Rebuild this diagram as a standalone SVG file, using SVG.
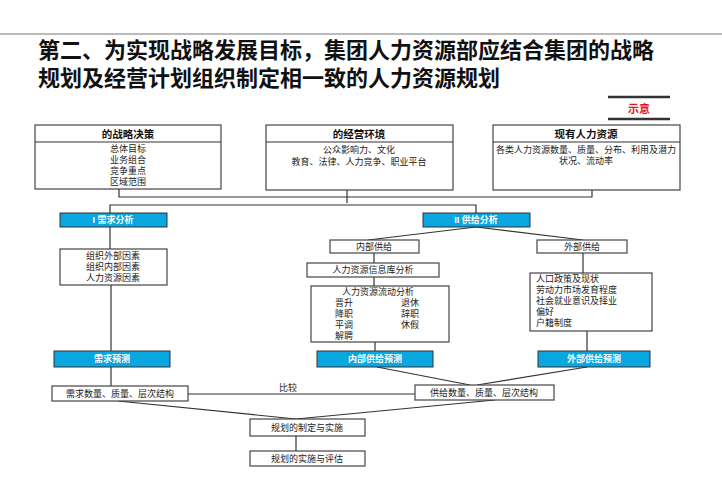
<svg xmlns="http://www.w3.org/2000/svg" width="722" height="500" viewBox="0 0 722 500">
<style>
text{font-family:"Liberation Sans","Noto Sans CJK SC",sans-serif;font-size:9px;fill:#222}
.t{font-size:22px;font-weight:bold;fill:#111}
.h{font-size:10.5px;font-weight:bold;text-anchor:middle;fill:#111}
.c{text-anchor:middle}
.w{fill:#fff;font-weight:bold;text-anchor:middle}
.b{fill:#fff;stroke:#444;stroke-width:1.2}
.bl{fill:#0AA6E0;stroke:#333;stroke-width:1}
.ln{stroke:#333;stroke-width:1.2;fill:none}
</style>
<rect width="722" height="500" fill="#fff"/>
<line x1="0" y1="34" x2="722" y2="34" stroke="#777" stroke-width="1"/>
<text class="t" x="38" y="58">第二、为实现战略发展目标，集团人力资源部应结合集团的战略</text>
<text class="t" x="38" y="86">规划及经营计划组织制定相一致的人力资源规划</text>
<g id="legend">
<line x1="608" y1="97" x2="670" y2="97" stroke="#333" stroke-width="2.5"/>
<line x1="608" y1="119" x2="670" y2="119" stroke="#333" stroke-width="2.5"/>
<text x="639" y="113" style="fill:#e8141e;font-weight:bold;font-size:11px;text-anchor:middle">示意</text>
</g>
<g id="connectors">
<polyline class="ln" points="119,189 119,197 592,197 592,190"/>
<line class="ln" x1="347" y1="190" x2="347" y2="203"/>
<polyline class="ln" points="110,213 110,205 476,205 476,213"/>
<line class="ln" x1="476" y1="227" x2="368" y2="240"/>
<line class="ln" x1="476" y1="227" x2="583" y2="240"/>
<line class="ln" x1="110" y1="227" x2="110" y2="249"/>
<line class="ln" x1="111" y1="285" x2="111" y2="351"/>
<line class="ln" x1="111" y1="367" x2="111" y2="386"/>
<line class="ln" x1="374" y1="253" x2="374" y2="263"/>
<line class="ln" x1="374" y1="277" x2="374" y2="286"/>
<line class="ln" x1="375" y1="342" x2="375" y2="351"/>
<line class="ln" x1="583" y1="253" x2="583" y2="273"/>
<line class="ln" x1="587" y1="331" x2="587" y2="351"/>
<line class="ln" x1="377" y1="367" x2="470" y2="385"/>
<line class="ln" x1="587" y1="367" x2="477" y2="385"/>
<line class="ln" x1="188" y1="394" x2="415" y2="394"/>
<text x="288" y="391" class="c">比较</text>
<line class="ln" x1="118" y1="401" x2="296" y2="419"/>
<line class="ln" x1="495" y1="400" x2="296" y2="419"/>
<line class="ln" x1="296" y1="436" x2="296" y2="451"/>
</g>
<g id="n1"><rect class="b" x="35" y="125" width="186" height="64"/><line class="ln" x1="35" y1="142" x2="221" y2="142"/>
<text class="h" x="128" y="138">的战略决策</text>
<text class="c" x="128" y="152">总体目标</text><text class="c" x="128" y="163">业务组合</text><text class="c" x="128" y="174">竞争重点</text><text class="c" x="128" y="185">区域范围</text></g>
<g id="n2"><rect class="b" x="266" y="125" width="187" height="65"/><line class="ln" x1="266" y1="142" x2="453" y2="142"/>
<text class="h" x="359" y="138">的经营环境</text>
<text class="c" x="359" y="153">公众影响力、文化</text><text class="c" x="359" y="165">教育、法律、人力竞争、职业平台</text></g>
<g id="n3"><rect class="b" x="493" y="125" width="187" height="65"/><line class="ln" x1="493" y1="142" x2="680" y2="142"/>
<text class="h" x="586" y="138">现有人力资源</text>
<text class="c" x="586" y="153">各类人力资源数量、质量、分布、利用及潜力</text><text class="c" x="586" y="164">状况、流动率</text></g>
<g id="demand"><rect class="bl" x="60" y="213" width="107" height="14"/><text class="w" x="113" y="223">I  需求分析</text></g>
<g id="supply"><rect class="bl" x="423" y="213" width="107" height="14"/><text class="w" x="476" y="223">II  供给分析</text></g>
<g id="factors"><rect class="b" x="60" y="249" width="107" height="36"/>
<text class="c" x="113" y="259">组织外部因素</text><text class="c" x="113" y="270">组织内部因素</text><text class="c" x="113" y="281">人力资源因素</text></g>
<g id="internal"><rect class="b" x="330" y="240" width="89" height="13"/><text class="c" x="374" y="250">内部供给</text></g>
<g id="external"><rect class="b" x="537" y="240" width="90" height="13"/><text class="c" x="582" y="250">外部供给</text></g>
<g id="info"><rect class="b" x="307" y="263" width="132" height="14"/><text class="c" x="373" y="273">人力资源信息库分析</text></g>
<g id="flow"><rect class="b" x="311" y="286" width="138" height="56"/>
<text class="c" x="378" y="295">人力资源流动分析</text>
<text x="335" y="306">晋升</text><text x="401" y="306">退休</text>
<text x="335" y="317">降职</text><text x="401" y="317">辞职</text>
<text x="335" y="328">平调</text><text x="401" y="328">休假</text>
<text x="335" y="339">解聘</text></g>
<g id="extfactors"><rect class="b" x="530" y="273" width="122" height="58"/>
<text x="536" y="282">人口政策及现状</text><text x="536" y="293">劳动力市场发育程度</text><text x="536" y="304">社会就业意识及择业</text><text x="536" y="315">偏好</text><text x="536" y="326">户籍制度</text></g>
<g id="f1"><rect class="bl" x="54" y="351" width="116" height="16"/><text class="w" x="112" y="362">需求预测</text></g>
<g id="f2"><rect class="bl" x="317" y="351" width="116" height="16"/><text class="w" x="375" y="362">内部供给预测</text></g>
<g id="f3"><rect class="bl" x="538" y="351" width="112" height="16"/><text class="w" x="594" y="362">外部供给预测</text></g>
<g id="dq"><rect class="b" x="52" y="386" width="136" height="15"/><text class="c" x="120" y="397">需求数量、质量、层次结构</text></g>
<g id="sq"><rect class="b" x="415" y="385" width="139" height="15"/><text class="c" x="484" y="396">供给数量、质量、层次结构</text></g>
<g id="p1"><rect class="b" x="250" y="419" width="115" height="17"/><text class="c" x="307" y="431">规划的制定与实施</text></g>
<g id="p2"><rect class="b" x="250" y="451" width="115" height="15"/><text class="c" x="307" y="462">规划的实施与评估</text></g>
</svg>
